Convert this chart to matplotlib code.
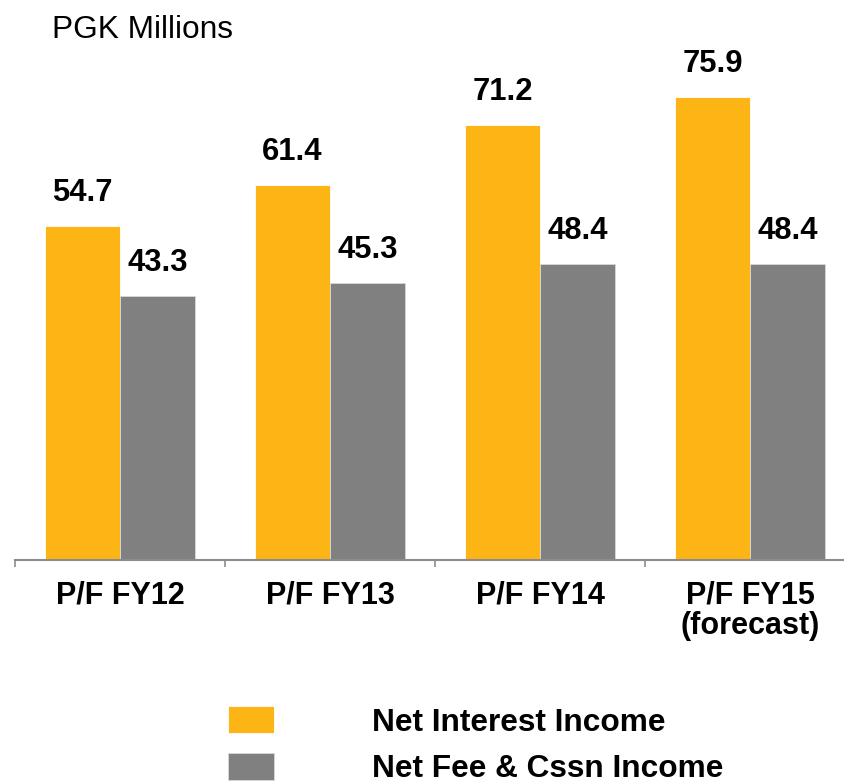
import numpy as np
from matplotlib import pyplot as plt
from matplotlib.ticker import FixedLocator

categories = ["P/F FY12", "P/F FY13", "P/F FY14", "P/F FY15\n(forecast)"]
net_interest = [54.7, 61.4, 71.2, 75.9]
net_fee = [43.3, 45.3, 48.4, 48.4]
series_names = ["Net Interest Income", "Net Fee & Cssn Income"]

orange = '#FDB515'
grey = '#808080'

plt.rcParams['font.family'] = ['Liberation Sans', 'DejaVu Sans']

W, H = 845, 781
fig = plt.figure(figsize=(W / 100, H / 100), dpi=100)
# axes: baseline at y=560 px, categories 210 px wide starting at x=15
ax = fig.add_axes([15 / W, (H - 560) / H, 840 / W, 549.5 / H])

x = np.arange(len(categories))
wid = 0.357
b1 = ax.bar(x - wid / 2, net_interest, width=wid, color=orange,
            edgecolor='white', linewidth=0.6, label=series_names[0])
b2 = ax.bar(x + wid / 2, net_fee, width=wid, color=grey,
            edgecolor='#d9d9d9', linewidth=0.6, label=series_names[1])

for bars, vals in ((b1, net_interest), (b2, net_fee)):
    for bar, v in zip(bars, vals):
        ax.annotate(f"{v:.1f}", (bar.get_x() + bar.get_width() / 2, v),
                    xytext=(0, 13), textcoords='offset points',
                    ha='center', va='bottom', fontsize=22.3, fontweight='bold')

ax.set_xlim(-0.5, 3.5)
ax.set_ylim(0, 90)
ax.set_xticks(x)
ax.set_xticklabels(categories, fontsize=22, fontweight='bold', linespacing=1.0)
ax.xaxis.set_minor_locator(FixedLocator([-0.5, 0.5, 1.5, 2.5]))
ax.tick_params(axis='x', which='major', length=0, pad=15)
ax.tick_params(axis='x', which='minor', length=5, width=1.2, color='#8c8c8c')
ax.set_yticks([])
for s in ('top', 'right', 'left'):
    ax.spines[s].set_visible(False)
ax.spines['bottom'].set_color('#8c8c8c')
ax.spines['bottom'].set_linewidth(1.5)

fig.text(52 / W, 1 - 38 / H, "PGK Millions", fontsize=22.8, va='baseline')

fig.legend(handles=[b1, b2], loc='upper left',
           bbox_to_anchor=(228 / W, 1 - 706 / H), frameon=False,
           prop={'size': 22.8, 'weight': 'bold'}, handlelength=1.45,
           handleheight=0.95, handletextpad=3.1, labelspacing=0.48,
           borderpad=0, borderaxespad=0)

fig.savefig('out.png', dpi=100)
